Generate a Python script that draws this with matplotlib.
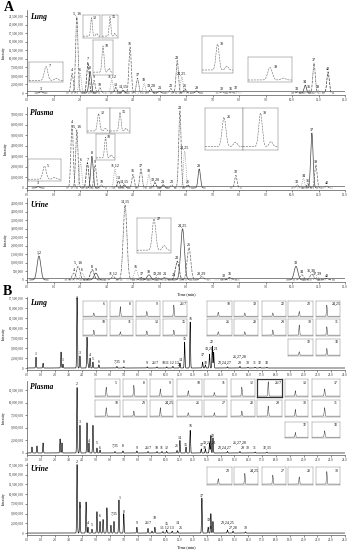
import numpy as np
import matplotlib
matplotlib.use('Agg')
import matplotlib.pyplot as plt
from matplotlib.ticker import FixedLocator, FuncFormatter

plt.rcParams['font.family'] = ['Liberation Serif', 'DejaVu Serif']

# ---------------- DATA (intensities in millions) ----------------
# Panel A : Lung
lung_a_labels = ['3', '4', '5, 16', '6', '7', '8', '9', '10', '11,12', '13', '14,15', '16', '17', '18',
                 '19,20', '21', '22', '23', '24,25', '26', '28', '30', '31', '32', '33', '34', '35', '37', '39', '40']
lung_a_times = [0.53, 1.70, 1.88, 2.00, 2.30, 2.38, 2.53, 2.75, 3.20, 3.35, 3.63, 3.89, 4.17, 4.42,
                4.67, 5.00, 5.43, 5.67, 5.84, 5.96, 6.40, 7.35, 7.70, 7.88, 10.20, 10.50, 10.64, 10.83, 10.98, 11.36]
lung_a_heights = [0.4, 5.8, 22.3, 6.0, 9.0, 6.3, 3.7, 1.5, 3.8, 1.6, 0.8, 13.5, 4.3, 2.8,
                  1.2, 0.5, 1.3, 9.5, 4.8, 1.2, 0.6, 0.3, 0.3, 0.6, 0.3, 2.3, 0.8, 8.8, 0.9, 6.2]

# Panel A : Plasma
plasma_a_labels = ['3', '4', '5, 16', '6', '7', '8', '9', '10', '11,12', '13', '14,15', '16', '17', '18',
                   '19,20', '21', '22', '23', '24,25', '26', '28', '32', '33', '34', '35', '37', '39', '40']
plasma_a_times = [0.42, 1.70, 1.88, 2.02, 2.28, 2.45, 2.57, 2.80, 3.32, 3.45, 3.67, 4.00, 4.30, 4.60,
                  4.83, 5.14, 5.46, 5.77, 5.95, 6.07, 6.50, 7.88, 10.20, 10.43, 10.60, 10.75, 10.90, 11.30]
plasma_a_heights = [0.15, 6.0, 5.5, 2.4, 2.4, 3.0, 2.2, 0.3, 1.8, 0.7, 0.3, 1.3, 1.8, 1.3,
                    0.5, 0.3, 0.3, 7.3, 3.5, 0.3, 1.8, 1.2, 0.3, 0.9, 0.4, 5.2, 2.2, 0.2]

# Panel A : Urine
urine_a_labels = ['1,2', '4', '5, 16', '6', '8', '9', '11,12', '14,15', '16', '17', '18', '19,20', '21',
                  '22', '23', '24,25', '26', '28,29', '30', '31', '33', '34', '35,36', '37,39', '40']
urine_a_times = [0.45, 1.77, 1.93, 2.07, 2.46, 2.60, 3.25, 3.70, 4.11, 4.33, 4.60, 4.90, 5.20,
                 5.55, 5.67, 5.87, 6.11, 6.60, 7.43, 7.66, 10.15, 10.37, 10.75, 10.94, 11.30]
urine_a_heights = [1.4, 0.4, 0.8, 0.4, 0.6, 0.4, 0.2, 4.4, 0.6, 0.15, 0.3, 0.15, 0.15,
                   0.1, 1.1, 3.0, 1.9, 0.2, 0.05, 0.15, 0.8, 0.3, 0.35, 0.15, 0.08]

# Panel B : Lung (peaks)
lung_b_times = [0.65, 1.16, 2.46, 2.60, 3.62, 3.83, 4.34, 4.41, 4.56, 4.77, 5.20, 6.50, 7.00, 8.70, 9.40,
                10.10, 10.55, 11.06, 11.40, 11.80, 12.70, 12.90, 13.20, 13.40, 13.50, 14.50, 15.40, 15.98,
                16.50, 16.85, 17.35]
lung_b_heights = [2.7, 1.2, 4.0, 1.0, 17.6, 3.0, 7.7, 1.0, 2.5, 1.5, 0.8, 0.4, 0.3, 0.3, 0.3,
                  0.3, 0.4, 1.2, 6.5, 11.5, 1.5, 0.8, 3.5, 5.5, 4.0, 0.3, 0.4, 0.2,
                  0.2, 0.2, 0.2]
lung_b_label_text = ['1', '1', '2', '3', '4', '5', '6', '7,35', '8', '9', '26/7', '10', '11 12 13', '25', '14',
                     '15', '16', '17', '18', '19,20,21', '22', '23,24,27', '26,27,28', '29', '30', '31', '32', '33']
lung_b_label_t = [0.65, 2.60, 3.62, 3.83, 4.56, 4.77, 5.20, 6.50, 7.00, 8.70, 9.25, 9.85, 10.45, 11.05, 11.10,
                  11.40, 11.80, 12.70, 12.95, 13.35, 13.40, 14.30, 15.40, 15.40, 15.98, 16.50, 16.85, 17.35]
lung_b_label_v = [3.0, 1.6, 17.0, 3.3, 2.8, 1.8, 1.0, 1.0, 1.0, 0.75, 0.75, 0.75, 0.75, 0.2, 1.6,
                  6.8, 11.8, 2.8, 0.75, 4.3, 6.1, 0.75, 2.3, 0.75, 0.75, 0.75, 0.75, 0.75]
lung_b_inset_labels = ['6', '8', '9', '26/7', '18', '19', '22', '23', '24,25',
                       '10', '11', '13', '15', '26', '28', '29', '30', '31', '32', '33']
lung_b_inset_heights = [0.2, 0.6, 0.3, 0.7, 0.25, 0.2, 0.2, 0.3, 0.7,
                        0.3, 0.2, 0.25, 0.3, 0.2, 0.2, 0.3, 0.6, 0.5, 0.2, 0.4]

# Panel B : Plasma (peaks)
plasma_b_times = [0.36, 0.72, 1.16, 2.39, 2.53, 3.62, 3.83, 4.34, 4.48, 4.77, 5.06, 5.28, 6.36, 6.94, 7.95,
                  8.75, 9.40, 9.76, 10.10, 10.85, 11.06, 11.50, 11.80, 12.60, 12.90, 13.20, 13.30, 13.45,
                  14.50, 15.40, 16.50, 17.35]
plasma_b_heights = [1.2, 1.4, 2.0, 2.8, 2.0, 13.0, 5.5, 6.0, 2.0, 5.5, 1.0, 0.6, 0.3, 0.4, 0.4,
                    0.3, 0.3, 0.3, 0.3, 0.5, 2.5, 1.2, 4.5, 0.8, 0.8, 2.0, 3.5, 3.0,
                    0.3, 0.3, 0.2, 0.2]
plasma_b_label_text = ['2', '3', '4', '5', '6', '7,35', '8', '9', '26/7', '10', '11', '12', '25', '14', '15',
                       '16', '17', '18', '19,20,21', '22', '23,24,27', '26,27,28', '29', '30', '31', '32,33']
plasma_b_label_t = [3.62, 3.83, 4.48, 5.06, 5.28, 6.36, 6.94, 7.95, 8.75, 9.40, 9.76, 10.10, 10.85, 11.06, 11.50,
                    11.80, 12.60, 12.85, 13.20, 13.45, 14.30, 15.40, 15.60, 15.98, 16.50, 17.35]
plasma_b_label_v = [13.3, 5.8, 2.0, 1.6, 0.6, 1.0, 1.0, 0.6, 0.6, 0.6, 0.6, 0.6, 1.0, 2.6, 1.2,
                    5.0, 1.2, 0.6, 1.6, 3.0, 0.6, 1.6, 0.6, 0.6, 0.6, 0.6]
plasma_b_inset_labels = ['5', '8', '9', '10', '11', '12', '26/7', '13', '37',
                         '18', '23', '24,25', '26', '27', '28', '29', '30', '31', '32', '33']
plasma_b_inset_heights = [0.5, 0.6, 0.4, 0.3, 0.2, 0.5, 0.8, 0.3, 0.4,
                          0.5, 0.3, 0.5, 0.2, 0.2, 0.3, 0.6, 0.4, 0.5, 0.3, 0.4]

# Panel B : Urine (peaks)
urine_b_times = [3.62, 3.83, 4.27, 4.41, 4.70, 5.06, 5.28, 5.50, 5.78, 6.07, 6.29, 6.65, 7.00, 7.95,
                 8.75, 9.04, 9.25, 9.83, 10.10, 10.50, 10.90, 12.65, 13.10, 13.30, 13.45, 14.50, 14.90, 15.80]
urine_b_heights = [17.6, 8.0, 8.0, 1.5, 1.0, 5.5, 3.0, 3.5, 6.5, 2.0, 3.0, 8.5, 5.0, 1.5,
                   1.2, 0.5, 1.5, 0.4, 0.8, 0.5, 0.6, 9.0, 1.5, 5.0, 3.0, 0.8, 0.5, 0.3]
urine_b_label_text = ['2', '3', '4', '5', '6', '7,35', '1', '8', '9', '26/7', '10', '15', '11 12 13', '14', '25',
                      '17', '19', '18', '23,24,25', '27,28', '30']
urine_b_label_t = [3.62, 3.83, 4.41, 4.70, 5.28, 6.29, 6.72, 7.00, 7.95, 8.75, 9.25, 10.10, 10.10, 10.90, 11.10,
                   12.65, 13.10, 13.30, 14.50, 14.90, 15.80]
urine_b_label_v = [17.8, 6.2, 2.0, 1.5, 3.9, 4.4, 8.6, 4.9, 2.0, 2.0, 3.3, 1.8, 0.8, 2.0, 0.8,
                   9.1, 2.8, 0.8, 2.0, 0.8, 0.8]
urine_b_inset_labels = ['23', '24,25', '27', '28', '30']
urine_b_inset_heights = [0.3, 0.6, 0.5, 0.4, 0.7]

# A-panel insets (zoomed peaks)
lung_a_inset_labels = ['7', '12', '15', '10', '38', '39']
lung_a_inset_heights = [0.7, 0.8, 0.85, 0.75, 0.7, 0.5]
plasma_a_inset_labels = ['5', '12', '15', '10', '25', '38']
plasma_a_inset_heights = [0.6, 0.7, 0.75, 0.8, 0.7, 0.8]
urine_a_inset_labels = ['27']
urine_a_inset_heights = [0.9]

a_ticks = np.arange(0, 13, 1.0)
b_ticks = np.arange(0, 24, 1.0)

# ---------------- LAYOUT ----------------
W, H = 352, 550
fig = plt.figure(figsize=(W / 100, H / 100), dpi=100)


def box(x0, y0, x1, y1):
    return [x0 / W, 1 - y1 / H, (x1 - x0) / W, (y1 - y0) / H]


def yfmt(v, pos):
    return '0' if abs(v) < 1e-9 else f"{int(round(v * 1e6)):,}"


def setup(ax, xlim, xticks, ylim, yticks, name):
    ax.set_xlim(*xlim)
    ax.set_ylim(*ylim)
    ax.xaxis.set_major_locator(FixedLocator(xticks))
    ax.yaxis.set_major_locator(FixedLocator(yticks))
    ax.xaxis.set_major_formatter(FuncFormatter(lambda v, p: f"{v:.1f}"))
    ax.yaxis.set_major_formatter(FuncFormatter(yfmt))
    ax.tick_params(labelsize=2.3, length=1.2, width=0.4, pad=1.2, colors='#333333')
    for s in ['top', 'right']:
        ax.spines[s].set_visible(False)
    for s in ['left', 'bottom']:
        ax.spines[s].set_linewidth(0.5)
        ax.spines[s].set_color('#555555')
    ax.patch.set_alpha(0)
    ax.text(0.01, 0.97, name, transform=ax.transAxes, fontsize=5.5, fontweight='bold',
            fontstyle='italic', va='top', ha='left')
    ax.set_ylabel('Intensity', fontsize=2.6, labelpad=2)


styles = ['-', '--', (0, (3, 1, 1, 1)), ':', (0, (4, 1.5))]
greys = ['#444444', '#666666', '#555555', '#777777', '#333333']


def draw_a(ax, times, heights, labels, sigma, top):
    for i, (t, h, lab) in enumerate(zip(times, heights, labels)):
        x = np.linspace(t - 5 * sigma, t + 5 * sigma, 200)
        y = h * np.exp(-0.5 * ((x - t) / sigma) ** 2)
        ax.plot(x, y, color=greys[i % 5], lw=0.5, ls=styles[i % 5])
        ax.text(t, h + top * 0.012, lab, ha='center', va='bottom', fontsize=3.0)
    ax.axhline(0.02 * top, color='#555555', lw=0.5)


def draw_b(ax, times, heights, xmax, ltext, lt, lv):
    x = np.linspace(0, xmax, 8000)
    y = np.zeros_like(x)
    for t, h in zip(times, heights):
        y += h * np.exp(-0.5 * ((x - t) / 0.025) ** 2)
    ax.plot(x, y, color='black', lw=0.45)
    for s, t, v in zip(ltext, lt, lv):
        ax.text(t, v, s, ha='center', va='bottom', fontsize=2.8)


def inset(px, label, h, kind='A', bold=False):
    ia = fig.add_axes(box(*px))
    ia.set_xlim(0, 1)
    ia.set_ylim(0, 1)
    x = np.linspace(0, 1, 300)
    if kind == 'A':
        y = 0.08 + h * np.exp(-0.5 * ((x - 0.5) / 0.05) ** 2) + 0.15 * h * np.exp(-0.5 * ((x - 0.8) / 0.05) ** 2)
        ia.plot(x, y, color='#666666', lw=0.4, ls='--')
        ia.text(0.58, 0.08 + h, label, fontsize=3.0, ha='left', va='center')
        for s in ia.spines.values():
            s.set_linewidth(0.35)
            s.set_color('#777777')
    else:
        y = 0.05 + h * np.exp(-0.5 * ((x - 0.45) / 0.015) ** 2)
        ia.plot(x, y, color='#444444', lw=0.35)
        ia.text(0.85, 0.8, label, fontsize=2.8, ha='center', va='center')
        for s in ia.spines.values():
            s.set_linewidth(0.9 if bold else 0.35)
            s.set_color('#333333' if bold else '#888888')
    ia.set_xticks([])
    ia.set_yticks([])
    ia.set_facecolor('white')


# ---- Panel A ----
fig.text(4 / W, 1 - 1 / H, 'A', fontsize=10, fontweight='bold', va='top', ha='left')

ax = fig.add_axes(box(27, 10, 345, 95))
setup(ax, (0, 12), a_ticks, (-0.58, 24.3), np.arange(0, 22.6, 2.5), 'Lung')
draw_a(ax, lung_a_times, lung_a_heights, lung_a_labels, 0.045, 24.3)

ax = fig.add_axes(box(27, 107, 345, 190))
setup(ax, (0, 12), a_ticks, (-0.19, 7.66), np.arange(0, 7.1, 1.0), 'Plasma')
draw_a(ax, plasma_a_times, plasma_a_heights, plasma_a_labels, 0.045, 7.66)

ax = fig.add_axes(box(27, 198, 345, 282))
setup(ax, (0, 12), a_ticks, (-0.12, 4.8), np.arange(0, 4.6, 0.5), 'Urine')
draw_a(ax, urine_a_times, urine_a_heights, urine_a_labels, 0.07, 4.8)
ax.set_xlabel('Time (min)', fontsize=3.0, labelpad=2)

lung_a_boxes = [(29, 62, 63, 82), (83, 15, 100, 38), (102, 15, 118, 38), (93, 40, 113, 75),
                (202, 36, 233, 73), (248, 57, 292, 82)]
for p, l, h in zip(lung_a_boxes, lung_a_inset_labels, lung_a_inset_heights):
    inset(p, l, h)
plasma_a_boxes = [(28, 159, 61, 181), (87, 108, 110, 133), (110, 108, 130, 133), (96, 134, 115, 160),
                  (205, 108, 243, 150), (243, 108, 278, 150)]
for p, l, h in zip(plasma_a_boxes, plasma_a_inset_labels, plasma_a_inset_heights):
    inset(p, l, h)
for p, l, h in zip([(137, 218, 171, 253)], urine_a_inset_labels, urine_a_inset_heights):
    inset(p, l, h)

# ---- Panel B ----
fig.text(3 / W, 1 - 285 / H, 'B', fontsize=10, fontweight='bold', va='top', ha='left')

ax = fig.add_axes(box(27, 297, 345, 370))
setup(ax, (0, 23), b_ticks, (-0.5, 17.75), np.arange(0, 17.6, 2.5), 'Lung')
draw_b(ax, lung_b_times, lung_b_heights, 23, lung_b_label_text, lung_b_label_t, lung_b_label_v)

ax = fig.add_axes(box(27, 381, 345, 455))
setup(ax, (0, 23), b_ticks, (-0.4, 14.3), np.arange(0, 12.6, 2.5), 'Plasma')
draw_b(ax, plasma_b_times, plasma_b_heights, 23, plasma_b_label_text, plasma_b_label_t, plasma_b_label_v)

ax = fig.add_axes(box(27, 463, 345, 535))
setup(ax, (0, 23), b_ticks, (-0.5, 18.0), np.arange(0, 17.6, 2.5), 'Urine')
draw_b(ax, urine_b_times, urine_b_heights, 23, urine_b_label_text, urine_b_label_t, urine_b_label_v)
ax.set_xlabel('Time (min)', fontsize=3.0, labelpad=2)

cols = [(83, 107), (110, 133), (136, 160), (163, 187), (207, 232), (234, 258), (262, 286), (288, 313), (316, 340)]
lung_rows = [(301, 317), (319, 336), (339, 356)]
lung_b_boxes = ([(c[0], lung_rows[0][0], c[1], lung_rows[0][1]) for c in cols] +
                [(c[0], lung_rows[1][0], c[1], lung_rows[1][1]) for c in cols] +
                [(c[0], lung_rows[2][0], c[1], lung_rows[2][1]) for c in cols[7:]])
for p, l, h in zip(lung_b_boxes, lung_b_inset_labels, lung_b_inset_heights):
    inset(p, l, h, kind='B')

pcols = [(95, 120), (123, 147), (150, 173), (177, 202), (204, 227), (231, 255), (257, 282), (285, 308), (312, 340)]
prow = [(379, 397), (400, 417), (422, 438)]
plasma_b_boxes = ([(c[0], prow[0][0], c[1], prow[0][1]) for c in pcols] +
                  [(c[0], prow[1][0], c[1], prow[1][1]) for c in pcols] +
                  [(c[0], prow[2][0], c[1], prow[2][1]) for c in pcols[7:]])
for p, l, h in zip(plasma_b_boxes, plasma_b_inset_labels, plasma_b_inset_heights):
    inset(p, l, h, kind='B', bold=(l == '26/7'))

urine_b_boxes = [(c[0], 467, c[1], 485) for c in cols[4:]]
for p, l, h in zip(urine_b_boxes, urine_b_inset_labels, urine_b_inset_heights):
    inset(p, l, h, kind='B')

fig.savefig('out.png', dpi=100)
